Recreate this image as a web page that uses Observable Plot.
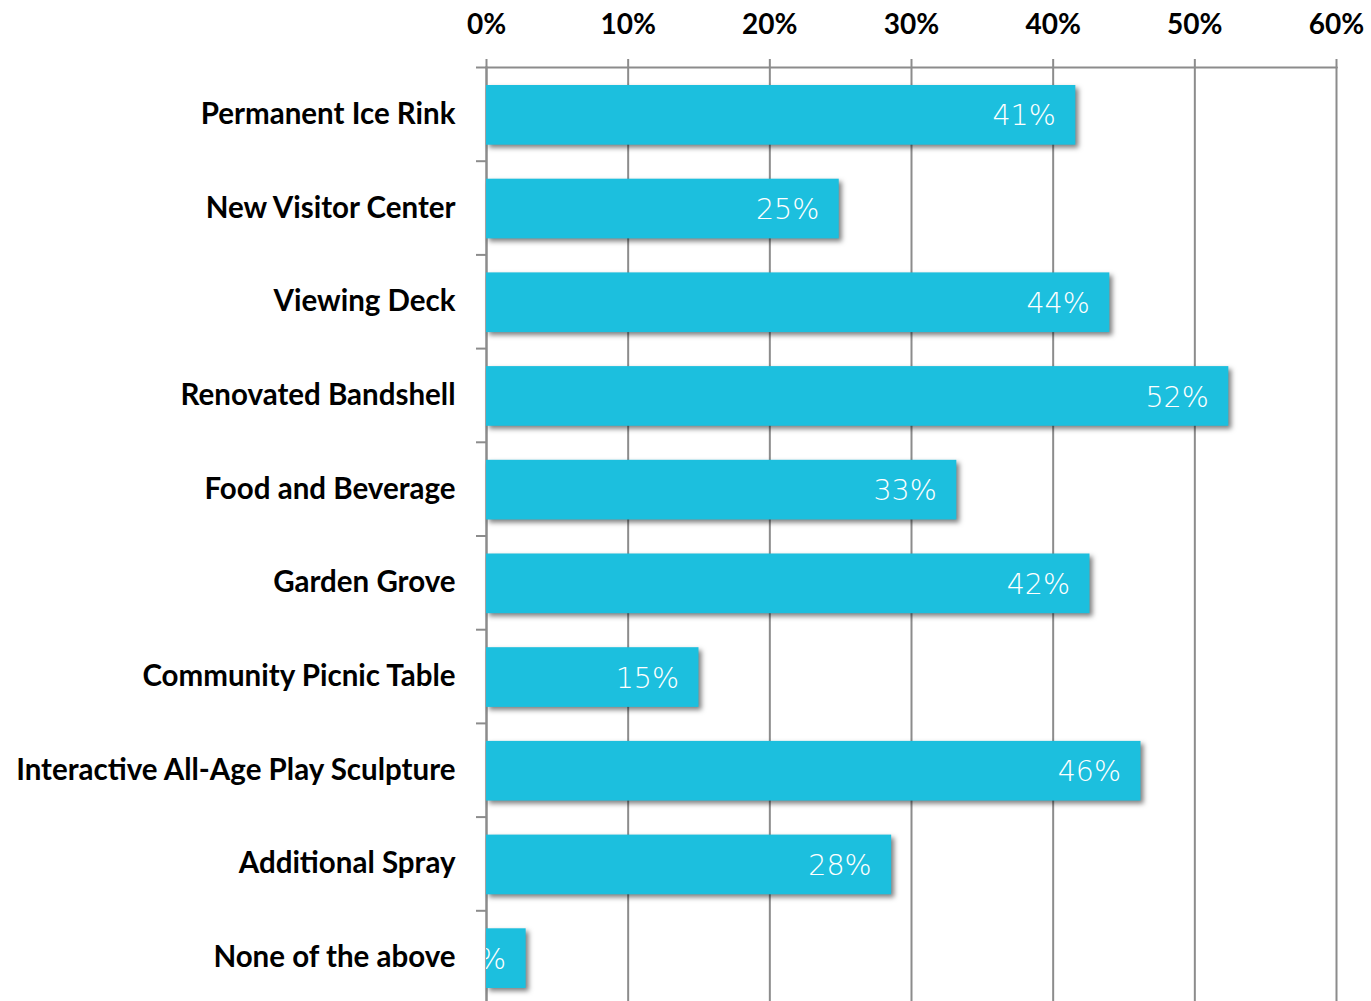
<!DOCTYPE html>
<html>
<head>
<meta charset="utf-8">
<script src="https://cdn.jsdelivr.net/npm/d3@7"></script>
<script src="https://cdn.jsdelivr.net/npm/@observablehq/plot@0.6"></script>
<style>
  html, body { margin: 0; padding: 0; background: #fff; }
  .bars rect { filter: drop-shadow(3px 3px 2.5px rgba(0,0,0,0.5)); }
</style>
</head>
<body>
<div id="chart"></div>
<script>
const categories = [
  "Permanent Ice Rink",
  "New Visitor Center",
  "Viewing Deck",
  "Renovated Bandshell",
  "Food and Beverage",
  "Garden Grove",
  "Community Picnic Table",
  "Interactive All-Age Play Sculpture",
  "Additional Spray",
  "None of the above"
];
const values = [41.6, 24.9, 44.0, 52.4, 33.2, 42.6, 15.0, 46.2, 28.6, 2.8];
const labels = ["41%", "25%", "44%", "52%", "33%", "42%", "15%", "46%", "28%", "3%"];
const xTicks = [0, 10, 20, 30, 40, 50, 60];

const data = categories.map((c, i) => ({category: c, value: values[i], label: labels[i]}));

const W = 1371, H = 1001, mTop = 67, mBottom = -3;
const step = (H - mTop - mBottom) / categories.length;
const gray = "#8c8c8c";

const chart = Plot.plot({
  width: W,
  height: H,
  marginTop: mTop,
  marginBottom: mBottom,
  marginLeft: 486,
  marginRight: 35,
  style: {background: "#fff", overflow: "visible"},
  x: {domain: [0, 60]},
  y: {domain: categories, padding: 0, round: false},
  marks: [
    Plot.gridX(xTicks, {stroke: gray, strokeOpacity: 1, strokeWidth: 2}),
    Plot.ruleY(categories, {y: d => d, x1: 0, x2: 0, dy: -step / 2, insetLeft: -10, stroke: gray, strokeWidth: 2}),
    Plot.frame({anchor: "top", stroke: gray, strokeWidth: 2}),
    Plot.frame({anchor: "left", stroke: gray, strokeWidth: 2}),
    Plot.axisX({
      anchor: "top", ticks: xTicks, tickFormat: d => d + "%",
      tickSize: 9, tickPadding: 25, stroke: gray, strokeWidth: 2,
      fontSize: 28, fontWeight: "bold", fontFamily: "Lato", fill: "#000", label: null
    }),
    Plot.axisY({
      anchor: "left", tickSize: 0, tickPadding: 31,
      fontSize: 29.5, fontWeight: "bold", fontFamily: "Lato", fill: "#000", label: null
    }),
    Plot.barX(data, {y: "category", x: "value", fill: "#1cbfde", insetTop: 18, insetBottom: 16, className: "bars"}),
    Plot.text(data, {
      y: "category", x: "value", text: "label", textAnchor: "end", dx: -20, dy: 2,
      fill: "#fff", fontSize: 28.5, fontWeight: 200, fontFamily: "DejaVu Sans", clip: "frame",
      style: "letter-spacing:2px"
    })
  ]
});
document.getElementById("chart").appendChild(chart);
</script>
</body>
</html>
